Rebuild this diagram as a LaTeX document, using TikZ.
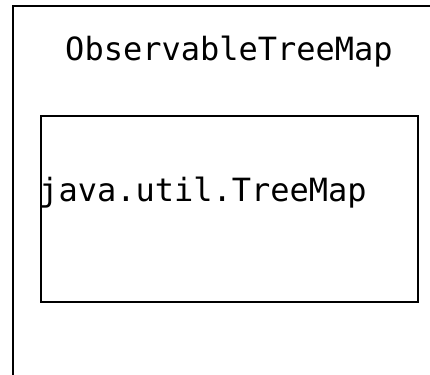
\documentclass[tikz,border=0pt]{standalone}
\usepackage{fontspec}
\usepackage{tikz}
\usetikzlibrary{positioning}
\newfontfamily\codefont{DejaVu Sans Mono}
\tikzset{
  frame/.style={draw=black,line width=2.2pt,inner sep=0pt,anchor=north west},
  classlbl/.style={font=\codefont\fontsize{32}{37}\selectfont,inner sep=0pt,anchor=base},
}
\begin{document}
\begin{tikzpicture}[x=1pt,y=-1pt]
    \useasboundingbox (0,0) rectangle (430,374);
    \clip (0,0) rectangle (430,374);
    \node[frame,minimum width=450pt,minimum height=420pt] (observable) at (12,5) {};
    \node[frame,minimum width=377pt,minimum height=186pt] (treemap) at (40,115) {};
    \node[classlbl] (obslbl) at (229,61) {ObservableTreeMap};
    \node[classlbl] (maplbl) at (203,201) {java.util.TreeMap};
  \end{tikzpicture}
\end{document}
